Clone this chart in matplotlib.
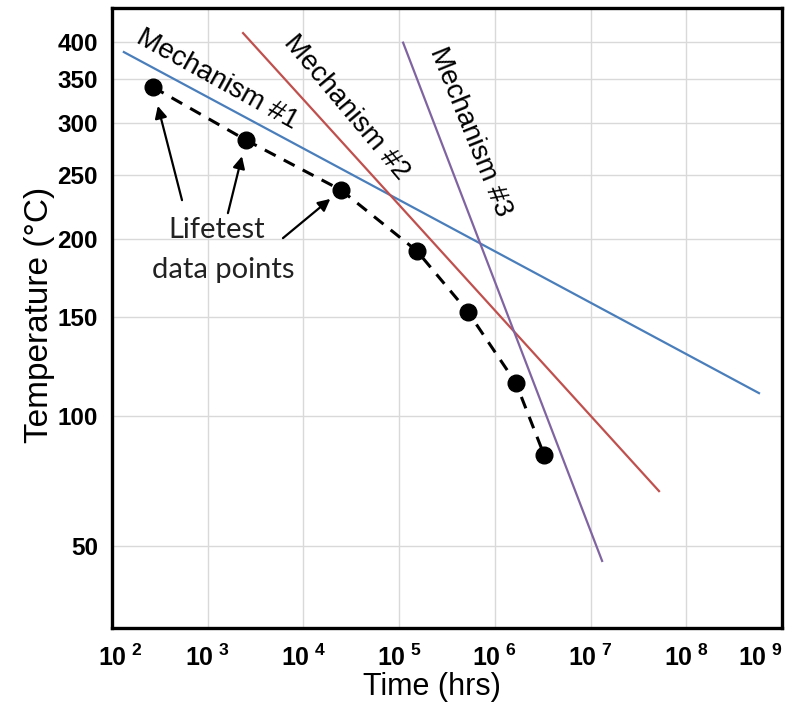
import numpy as np
import matplotlib
matplotlib.use("Agg")
import matplotlib.pyplot as plt
from matplotlib.transforms import ScaledTranslation

plt.rcParams['font.family'] = ['Liberation Sans', 'DejaVu Sans']
plt.rcParams['mathtext.fontset'] = 'custom'
plt.rcParams['mathtext.rm'] = 'Liberation Sans'
plt.rcParams['mathtext.bf'] = 'Liberation Sans:bold'

# ---- data ----
life_time = [268, 2510, 24700, 153800, 525000, 1.66e6, 3.27e6]      # hrs
life_temp = [340.5, 282.8, 237.5, 191.3, 152.8, 115.3, 83.5]          # deg C

mech1_time = [1.33e2, 5.75e8]
mech1_temp = [385.7, 110.5]
mech2_time = [2.34e3, 5.19e7]
mech2_temp = [413.1, 69.4]
mech3_time = [1.10e5, 1.32e7]
mech3_temp = [399.0, 45.1]

y_ticks = [50, 100, 150, 200, 250, 300, 350, 400]
x_ticks = [1e2, 1e3, 1e4, 1e5, 1e6, 1e7, 1e8, 1e9]
x_tick_labels = [r'$\mathbf{10}^{\ \mathbf{%d}}$' % e for e in range(2, 10)]

BLUE = '#4a7ebb'
RED = '#c0504d'
PURPLE = '#8064a2'


def fwd(t):
    t = np.asarray(t, dtype=float)
    return -1.0 / (t + 273.15)


def inv(v):
    v = np.asarray(v, dtype=float)
    with np.errstate(divide='ignore'):
        return -1.0 / v - 273.15


fig = plt.figure(figsize=(7.87, 7.06), dpi=100)
ax = fig.add_axes([112 / 787, 1 - 628 / 706, 670 / 787, 620 / 706])
ax.set_xscale('log')
ax.set_yscale('function', functions=(fwd, inv))
ax.set_xlim(1e2, 1e9)
ax.set_ylim(24.8, 453)

ax.set_xticks(x_ticks)
ax.set_xticklabels(x_tick_labels)
ax.minorticks_off()
ax.set_yticks(y_ticks)
ax.set_yticklabels([str(v) for v in y_ticks])
ax.tick_params(length=0)
ax.tick_params(axis='x', labelsize=18, pad=12)
ax.tick_params(axis='y', labelsize=17.5, pad=10)
for lab in ax.get_yticklabels():
    lab.set_fontweight('bold')

ax.grid(True, color='#d9d9d9', linewidth=1.0)
ax.set_axisbelow(True)
for s in ax.spines.values():
    s.set_linewidth(2.4)
    s.set_color('black')

ax.plot(mech1_time, mech1_temp, color=BLUE, lw=1.6)
ax.plot(mech2_time, mech2_temp, color=RED, lw=1.6)
ax.plot(mech3_time, mech3_temp, color=PURPLE, lw=1.6)
ax.plot(life_time, life_temp, color='black', lw=2.2, ls=(0, (4, 3)))
ax.plot(life_time, life_temp, 'o', color='black', ms=12, ls='none')

ax.text(0.1567, 0.8839, 'Mechanism #1', transform=ax.transAxes, rotation=-29,
        ha='center', va='center', fontsize=20, rotation_mode='anchor')
ax.text(0.3493, 0.8403, 'Mechanism #2', transform=ax.transAxes, rotation=-50,
        ha='center', va='center', fontsize=20, rotation_mode='anchor')
ax.text(0.5343, 0.800, 'Mechanism #3', transform=ax.transAxes, rotation=-68,
        ha='center', va='center', fontsize=20, rotation_mode='anchor')

ax.text((217 - 112) / 670, (628 - 230) / 620, 'Lifetest', transform=ax.transAxes,
        ha='center', va='center', fontsize=21, family=['Lato', 'DejaVu Sans'],
        color='#222222')
ax.text((223 - 112) / 670, (628 - 270) / 620, 'data points', transform=ax.transAxes,
        ha='center', va='center', fontsize=21, family=['Lato', 'DejaVu Sans'],
        color='#222222')

arrow_kw = dict(arrowstyle='-|>', color='black', lw=1.6, mutation_scale=18)
ax.annotate('', xy=(life_time[0], life_temp[0]), xytext=(20.9, -81.4),
            textcoords='offset points',
            arrowprops=dict(shrinkA=0, shrinkB=14, **arrow_kw))
ax.annotate('', xy=(life_time[1], life_temp[1]), xytext=(-13, -52.6),
            textcoords='offset points',
            arrowprops=dict(shrinkA=0, shrinkB=12, **arrow_kw))
ax.annotate('', xy=(life_time[2], life_temp[2]), xytext=(-41.8, -34.6),
            textcoords='offset points',
            arrowprops=dict(shrinkA=0, shrinkB=10, **arrow_kw))

ax.set_xlabel('Time (hrs)', fontsize=22)
ax.xaxis.set_label_coords((432 - 112) / 670, (628 - 672) / 620)
ax.set_ylabel('Temperature (°C)', fontsize=24)
ax.yaxis.set_label_coords((55 - 112) / 670, (628 - 315) / 620)

# nudge end labels inward like reference
labs = ax.get_xticklabels()
labs[0].set_transform(labs[0].get_transform() + ScaledTranslation(8 / 100, 0, fig.dpi_scale_trans))
labs[-1].set_transform(labs[-1].get_transform() + ScaledTranslation(-22 / 100, 0, fig.dpi_scale_trans))

fig.savefig('out.png', dpi=100)
